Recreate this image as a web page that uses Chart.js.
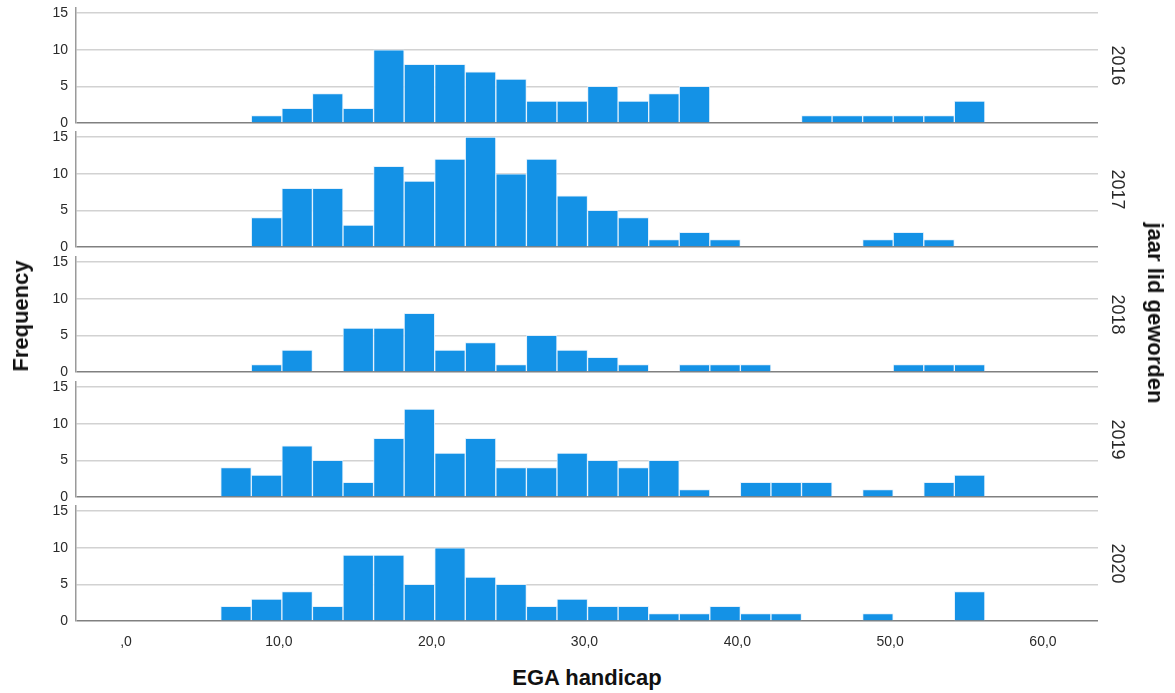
<!DOCTYPE html>
<html><head><meta charset="utf-8">
<script src="https://cdn.jsdelivr.net/npm/chart.js@4.4.0/dist/chart.umd.min.js"></script>
<style>
html,body{margin:0;padding:0;background:#fff;}
#wrap{position:relative;width:1175px;height:693px;overflow:hidden;font-family:'Liberation Sans',Arial,sans-serif;}
canvas{position:absolute;left:0;}
.t{position:absolute;font-weight:bold;font-size:22px;color:#111;white-space:nowrap;transform-origin:center center;}
</style></head><body>
<div id="wrap">
<canvas id="c0" width="1175" height="135"></canvas>
<canvas id="c1" width="1175" height="135"></canvas>
<canvas id="c2" width="1175" height="135"></canvas>
<canvas id="c3" width="1175" height="135"></canvas>
<canvas id="c4" width="1175" height="165"></canvas>
<div class="t" id="ylab" style="left:21px;top:316px;transform:translate(-50%,-50%) rotate(-90deg);">Frequency</div>
<div class="t" id="rlab" style="left:1155px;top:313px;transform:translate(-50%,-50%) rotate(90deg);">jaar lid geworden</div>
<div class="t" id="xlab" style="left:587px;top:678px;transform:translate(-50%,-50%);">EGA handicap</div>
</div>
<script>
const years = ['2016', '2017', '2018', '2019', '2020'];
// histogram bin centers (bin width 2)
const binCenters = [7.2, 9.2, 11.2, 13.2, 15.2, 17.2, 19.2, 21.2, 23.2, 25.2, 27.2, 29.2, 31.2,
                    33.2, 35.2, 37.2, 39.2, 41.2, 43.2, 45.2, 47.2, 49.2, 51.2, 53.2, 55.2];
const counts2016 = [0, 1, 2, 4, 2, 10, 8, 8, 7, 6, 3, 3, 5, 3, 4, 5, 0, 0, 0, 1, 1, 1, 1, 1, 3];
const counts2017 = [0, 4, 8, 8, 3, 11, 9, 12, 15, 10, 12, 7, 5, 4, 1, 2, 1, 0, 0, 0, 0, 1, 2, 1, 0];
const counts2018 = [0, 1, 3, 0, 6, 6, 8, 3, 4, 1, 5, 3, 2, 1, 0, 1, 1, 1, 0, 0, 0, 0, 1, 1, 1];
const counts2019 = [4, 3, 7, 5, 2, 8, 12, 6, 8, 4, 4, 6, 5, 4, 5, 1, 0, 2, 2, 2, 0, 1, 0, 2, 3];
const counts2020 = [2, 3, 4, 2, 9, 9, 5, 10, 6, 5, 2, 3, 2, 2, 1, 1, 2, 1, 1, 0, 0, 1, 0, 0, 4];
const yTickValues = [0, 5, 10, 15];
const xTickValues = [0, 10, 20, 30, 40, 50, 60];
const xTickLabels = [',0', '10,0', '20,0', '30,0', '40,0', '50,0', '60,0'];

const series = [counts2016, counts2017, counts2018, counts2019, counts2020];
const FONT = "'Liberation Sans', Arial, sans-serif";
const baselines = [123, 247, 372, 497, 621];
const areaH = 115;
const padTop = 10;

function makeChart(i) {
  const isLast = i === years.length - 1;
  const el = document.getElementById('c' + i);
  el.style.top = (baselines[i] - areaH - padTop) + 'px';
  new Chart(el, {
    type: 'bar',
    data: {
      datasets: [{
        data: binCenters.map((x, k) => ({x: x, y: series[i][k]})),
        backgroundColor: '#1492E6',
        borderColor: 'rgba(225,240,252,0.9)',
        borderWidth: 1,
        borderSkipped: 'bottom',
        barPercentage: 1,
        categoryPercentage: 1
      }]
    },
    options: {
      responsive: false,
      animation: false,
      devicePixelRatio: 1,
      layout: {padding: {top: padTop, bottom: isLast ? 0 : 10, left: 0, right: 0}},
      plugins: {legend: {display: false}, tooltip: {enabled: false}},
      scales: {
        x: {
          type: 'linear', min: -3.27, max: 63.6, display: isLast, offset: false,
          grid: {display: false, drawTicks: false, offset: false},
          border: {display: false},
          ticks: {padding: 13, color: '#2a2a2a', font: {size: 14, family: FONT},
                  maxRotation: 0, autoSkip: false,
                  callback: (v, idx) => xTickLabels[idx]},
          afterBuildTicks: s => { s.ticks = xTickValues.map(v => ({value: v})); },
          afterFit: s => { s.height = isLast ? 40 : 0; s.paddingLeft = 0; s.paddingRight = 0; }
        },
        y: {
          position: 'left', min: 0, max: 15.7,
          grid: {color: c => c.tick && c.tick.value === 0 ? '#808080' : '#d2d2d2',
                 lineWidth: 1.5,
                 drawTicks: false},
          border: {display: true, color: '#9a9a9a', width: 1.5},
          ticks: {padding: 8, color: '#2a2a2a', font: {size: 14, family: FONT},
                  callback: v => String(v)},
          afterBuildTicks: s => { s.ticks = yTickValues.map(v => ({value: v})); },
          afterFit: s => { s.width = 76; s.paddingTop = 0; s.paddingBottom = 0; }
        },
        yR: {
          type: 'linear', position: 'right', display: true,
          grid: {display: false, drawTicks: false},
          border: {display: false},
          ticks: {display: false},
          title: {display: true, text: years[i], color: '#2a2a2a',
                  font: {size: 18, family: FONT}, padding: {top: 47, bottom: 0}},
          afterFit: s => { s.width = 77; s.paddingTop = 0; s.paddingBottom = 0; }
        }
      }
    }
  });
}
for (let i = 0; i < years.length; i++) makeChart(i);
</script>
</body></html>
